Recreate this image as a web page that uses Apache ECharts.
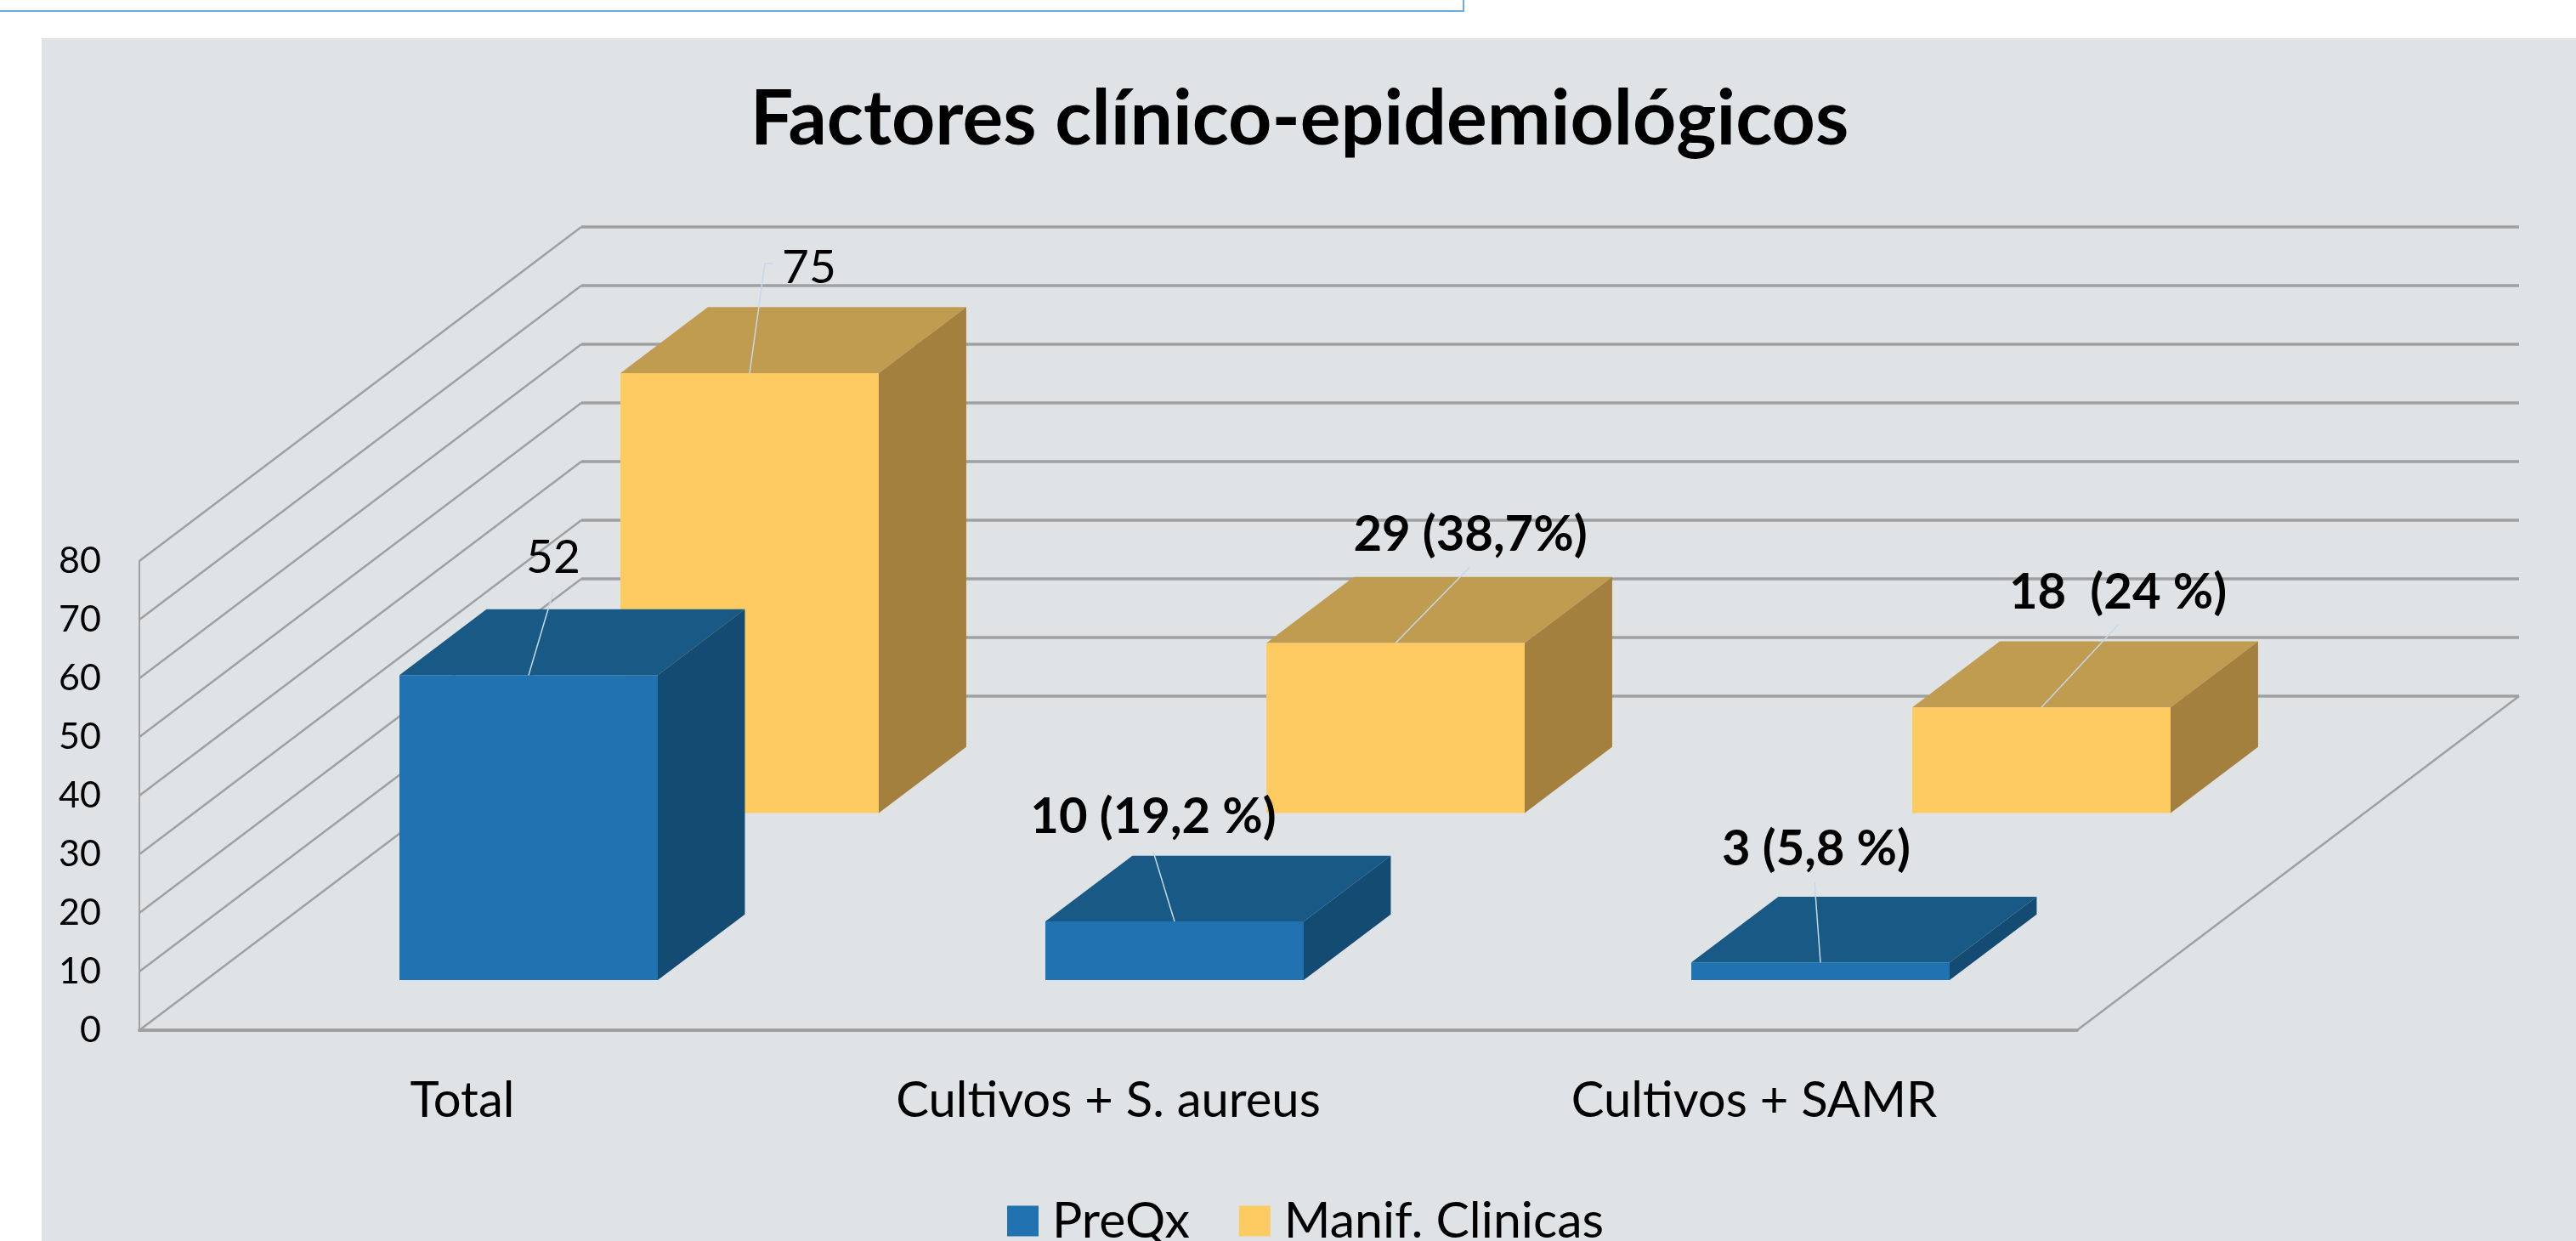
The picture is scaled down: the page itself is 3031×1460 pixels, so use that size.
<!DOCTYPE html>
<html>
<head>
<meta charset="utf-8">
<title>Factores clínico-epidemiológicos</title>
<style>
html, body { margin: 0; padding: 0; background: #fff; }
#chart { width: 3031px; height: 1460px; }
</style>
<script src="https://cdn.jsdelivr.net/npm/echarts@6/dist/echarts.min.js"></script>
</head>
<body>
<div id="chart"></div>
<script>
// datos
var categories = ['Total', 'Cultivos + S. aureus', 'Cultivos + SAMR'];
var preqx = [52, 10, 3];
var manif = [75, 29, 18];
var preqxLabels = ['52', '10 (19,2 %)', '3 (5,8 %)'];
var manifLabels = ['75', '29 (38,7%)', '18  (24 %)'];
var yTicks = [0, 10, 20, 30, 40, 50, 60, 70, 80];

// proyeccion oblicua: cuanto se desplaza el fondo del suelo respecto al frente
var depthX = 520;
var depthY = -393;
var barWidth = 0.4;       // fraccion de la categoria
var preqxDepth = [0.15, 0.347];
var manifDepth = [0.65, 0.848];

// guia de cada etiqueta, relativa al centro del borde superior frontal de la barra
var preqxGuides = [
    { line: [[0, 0], [29, -98]], text: [29, -138] },
    { line: [[0, 0], [-25, -82]], text: [-25, -123] },
    { line: [[0, 0], [-7, -95]], text: [-5, -133] }
];
var manifGuides = [
    { line: [[0, 0], [18, -129], [28, -129]], text: [70, -124] },
    { line: [[0, 0], [87, -89]], text: [88, -127] },
    { line: [[0, 0], [90, -97]], text: [90, -135] }
];

var fontName = 'Lato';

function renderWalls(params, api) {
    var p = api.coord([0, api.value(0)]);
    var x0 = params.coordSys.x;
    var w = params.coordSys.width;
    var y = p[1];
    var lineColor = '#a0a0a0';
    var children = [
        { type: 'line', shape: { x1: x0, y1: y, x2: x0 + depthX, y2: y + depthY }, style: { stroke: lineColor, lineWidth: 2.5 } },
        { type: 'line', shape: { x1: x0 + depthX, y1: y + depthY, x2: x0 + depthX + w, y2: y + depthY }, style: { stroke: lineColor, lineWidth: 3.5 } }
    ];
    // lado derecho del suelo
    if (api.value(0) === 0) {
        children.push({ type: 'line', shape: { x1: x0 + w, y1: y, x2: x0 + w + depthX, y2: y + depthY }, style: { stroke: lineColor, lineWidth: 2.5 } });
    }
    return { type: 'group', children: children };
}

function makeBarRenderer(depth, colors, labels, guides, labelWeight) {
    return function(params, api) {
        var i = params.dataIndex;
        var top = api.coord([api.value(0), api.value(1)]);
        var base = api.coord([api.value(0), 0]);
        var band = api.size([1, 0])[0];
        var half = band * barWidth / 2;
        var ox = depthX * depth[0], oy = depthY * depth[0];
        var sx = depthX * (depth[1] - depth[0]), sy = depthY * (depth[1] - depth[0]);
        var l = top[0] - half + ox, r = top[0] + half + ox;
        var t = top[1] + oy, b = base[1] + oy;
        var children = [
            // cara superior
            { type: 'polygon', shape: { points: [[l, t], [l + sx, t + sy], [r + sx, t + sy], [r, t]] }, style: { fill: colors.top } },
            // cara lateral
            { type: 'polygon', shape: { points: [[r, t], [r + sx, t + sy], [r + sx, b + sy], [r, b]] }, style: { fill: colors.side } },
            // cara frontal
            { type: 'rect', shape: { x: l, y: t, width: r - l, height: b - t }, style: { fill: colors.front } }
        ];
        var cx = (l + r) / 2;
        var guide = guides[i];
        children.push({
            type: 'polyline',
            shape: { points: guide.line.map(function(pt) { return [cx + pt[0], t + pt[1]]; }) },
            style: { stroke: '#c5d8e8', lineWidth: 1.5, fill: 'none' }
        });
        var isLabelBold = labelWeight[i];
        children.push({
            type: 'text',
            style: {
                text: labels[i],
                x: cx + guide.text[0],
                y: t + guide.text[1],
                align: 'center',
                verticalAlign: 'middle',
                fill: '#000',
                fontFamily: fontName,
                fontSize: isLabelBold ? 58 : 55,
                fontWeight: isLabelBold ? 'bold' : 'normal'
            }
        });
        return { type: 'group', children: children };
    };
}

function toPoints(values) {
    return values.map(function(v, i) {
        return [i, v];
    });
}

var myChart = echarts.init(document.getElementById('chart'));
var option = {
    animation: false,
    backgroundColor: '#fff',
    textStyle: { fontFamily: fontName },
    title: {
        text: 'Factores clínico-epidemiológicos',
        left: 1524,
        top: 91,
        textAlign: 'center',
        textStyle: { fontFamily: fontName, fontSize: 89.5, fontWeight: 'bold', color: '#000' }
    },
    legend: {
        data: ['PreQx', 'Manif. Clinicas'],
        left: 1180,
        top: 1402,
        icon: 'rect',
        itemWidth: 37,
        itemHeight: 36,
        itemGap: 58,
        textStyle: { fontFamily: fontName, fontSize: 59, color: '#000', padding: [0, 0, 0, 11] }
    },
    grid: { left: 164, top: 660, width: 2280, height: 552 },
    xAxis: {
        type: 'category',
        data: categories,
        axisLine: { lineStyle: { color: '#a0a0a0', width: 4 } },
        axisTick: { show: false },
        axisLabel: { margin: 54, fontFamily: fontName, fontSize: 58, color: '#000' }
    },
    yAxis: {
        type: 'value',
        min: yTicks[0],
        max: yTicks[yTicks.length - 1],
        interval: 10,
        axisLine: { show: true, lineStyle: { color: '#a0a0a0', width: 2 } },
        axisTick: { show: false },
        splitLine: { show: false },
        axisLabel: { margin: 45, fontFamily: fontName, fontSize: 43, color: '#000' }
    },
    series: [
        {
            name: 'walls',
            type: 'custom',
            data: yTicks.map(function(v) { return [v]; }),
            encode: { y: 0 },
            renderItem: renderWalls,
            silent: true
        },
        {
            name: 'Manif. Clinicas',
            type: 'custom',
            data: toPoints(manif),
            encode: { x: 0, y: 1 },
            itemStyle: { color: '#fecb63' },
            renderItem: makeBarRenderer(manifDepth, { front: '#fecb63', top: '#c09c50', side: '#a4803f' }, manifLabels, manifGuides, [false, true, true])
        },
        {
            name: 'PreQx',
            type: 'custom',
            data: toPoints(preqx),
            encode: { x: 0, y: 1 },
            itemStyle: { color: '#2072b0' },
            renderItem: makeBarRenderer(preqxDepth, { front: '#2072b0', top: '#185a85', side: '#144b73' }, preqxLabels, preqxGuides, [false, true, true])
        }
    ],
    graphic: [
        { type: 'rect', z: -1, silent: true, shape: { x: 49, y: 45, width: 2982, height: 1415 }, style: { fill: '#e0e3e6' } },
        { type: 'polyline', z: -1, silent: true, shape: { points: [[0, 13], [1722, 13], [1722, 0]] }, style: { stroke: '#6aaee0', lineWidth: 2, fill: 'none' } }
    ]
};
myChart.setOption(option);
</script>
</body>
</html>
